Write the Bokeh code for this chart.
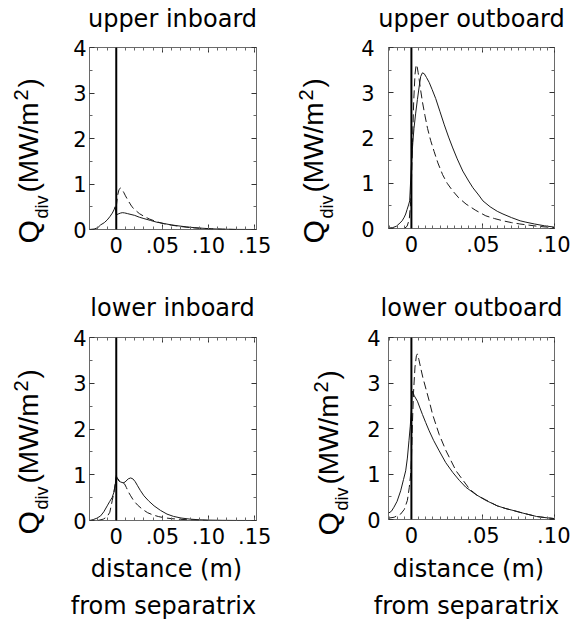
import math
from bokeh.plotting import figure
from bokeh.models import Span, FixedTicker, LinearAxis, Range1d
from bokeh.layouts import row, column
from bokeh.core.properties import value
from bokeh.embed import file_html
from bokeh.resources import INLINE

# ---------------- data ----------------
titles = ["upper inboard", "upper outboard", "lower inboard", "lower outboard"]
xlabel_lines = ["distance (m)", "from separatrix"]
ylabel_parts = ["Q", "div", "(MW/m", "2", ")"]

y_ticks = [0, 1, 2, 3, 4]
inboard_ticks = [0.0, 0.05, 0.10, 0.15]
inboard_tick_labels = ["0", ".05", ".10", ".15"]
outboard_ticks = [0.0, 0.05, 0.10]
outboard_tick_labels = ["0", ".05", ".10"]
inboard_xrange = (-0.029, 0.152)
outboard_xrange = (-0.016, 0.1)
q_range = (0, 4)
separatrix = 0.0

ui_solid_x = [-0.029, -0.024, -0.02, -0.017, -0.013, -0.0098, -0.007, -0.0043, -0.0025, -0.0012, 0.0,
              0.002, 0.0045, 0.0065, 0.009, 0.012, 0.016, 0.02, 0.025, 0.03, 0.037, 0.044, 0.052, 0.06,
              0.068, 0.076, 0.085, 0.094, 0.103, 0.115, 0.13, 0.152]
ui_solid_y = [0.0, 0.01, 0.04, 0.1, 0.15, 0.21, 0.28, 0.36, 0.43, 0.5, 0.32,
              0.34, 0.36, 0.37, 0.365, 0.35, 0.33, 0.31, 0.27, 0.24, 0.2, 0.16, 0.13, 0.1,
              0.078, 0.058, 0.04, 0.027, 0.015, 0.007, 0.002, 0.0]
ui_dash_x = [0.0, 0.0015, 0.003, 0.0045, 0.006, 0.008, 0.01, 0.013, 0.017, 0.021, 0.025, 0.03, 0.036,
             0.044, 0.052, 0.06, 0.07, 0.08, 0.09, 0.1, 0.115, 0.13]
ui_dash_y = [0.5, 0.75, 0.88, 0.91, 0.89, 0.82, 0.74, 0.63, 0.5, 0.42, 0.35, 0.29, 0.23,
             0.17, 0.125, 0.095, 0.065, 0.042, 0.027, 0.016, 0.006, 0.0]

uo_solid_x = [-0.016, -0.013, -0.0105, -0.0087, -0.0065, -0.005, -0.004, -0.003, -0.002, -0.0012, 0.0,
              0.001, 0.0018, 0.003, 0.0042, 0.0055, 0.0065, 0.0077, 0.009, 0.0105, 0.0124, 0.0145, 0.017,
              0.02, 0.023, 0.026, 0.0289, 0.032, 0.0359, 0.04, 0.043, 0.047, 0.05, 0.055, 0.06, 0.064,
              0.07, 0.076, 0.08, 0.086, 0.093, 0.1]
uo_solid_y = [0.01, 0.02, 0.05, 0.1, 0.17, 0.25, 0.32, 0.42, 0.52, 0.61, 1.4,
              1.9, 2.21, 2.55, 2.85, 3.15, 3.36, 3.44, 3.42, 3.34, 3.23, 3.07, 2.87,
              2.58, 2.29, 2.02, 1.78, 1.54, 1.27, 1.05, 0.9, 0.74, 0.61, 0.48, 0.38, 0.32,
              0.24, 0.17, 0.14, 0.1, 0.06, 0.03]
uo_dash_x = [-0.005, -0.003, -0.0015, -0.0005, 0.0, 0.0008, 0.0016, 0.0025, 0.0033, 0.004, 0.0047, 0.0054,
             0.0065, 0.0077, 0.0095, 0.0113, 0.0135, 0.0159, 0.0185, 0.0218, 0.025, 0.0289, 0.033, 0.0382,
             0.045, 0.052, 0.058, 0.064, 0.07, 0.0758, 0.082, 0.088, 0.094, 0.1]
uo_dash_y = [0.0, 0.05, 0.2, 0.6, 1.0, 1.9, 2.8, 3.4, 3.62, 3.58, 3.45, 3.3,
             3.05, 2.8, 2.49, 2.21, 1.94, 1.70, 1.45, 1.19, 1.0, 0.83, 0.68, 0.54,
             0.4, 0.28, 0.22, 0.17, 0.13, 0.10, 0.075, 0.05, 0.033, 0.02]

li_solid_x = [-0.029, -0.025, -0.021, -0.017, -0.0135, -0.0098, -0.007, -0.0045, -0.0025, -0.001, 0.0,
              0.0015, 0.003, 0.005, 0.008, 0.0105, 0.013, 0.0156, 0.018, 0.0205, 0.0228, 0.026, 0.03,
              0.035, 0.041, 0.048, 0.055, 0.062, 0.07, 0.08, 0.09, 0.1, 0.115, 0.13, 0.152]
li_solid_y = [0.0, 0.02, 0.05, 0.1, 0.19, 0.32, 0.42, 0.5, 0.62, 0.8, 0.98,
              0.9, 0.86, 0.84, 0.82, 0.86, 0.91, 0.93, 0.91, 0.85, 0.77, 0.66, 0.54,
              0.43, 0.32, 0.22, 0.14, 0.09, 0.055, 0.03, 0.016, 0.009, 0.004, 0.001, 0.0]
li_dash_x = [-0.02, -0.014, -0.01, -0.007, -0.0043, -0.0025, -0.001, 0.0, 0.0015, 0.003, 0.005, 0.007,
             0.009, 0.011, 0.013, 0.0156, 0.019, 0.023, 0.028, 0.034, 0.04, 0.046, 0.052, 0.06, 0.07,
             0.08, 0.09, 0.1]
li_dash_y = [0.0, 0.03, 0.08, 0.18, 0.44, 0.62, 0.82, 0.95, 0.92, 0.88, 0.86, 0.84,
             0.8, 0.72, 0.63, 0.54, 0.43, 0.34, 0.25, 0.17, 0.12, 0.085, 0.06, 0.04, 0.025,
             0.014, 0.007, 0.0]

lo_solid_x = [-0.016, -0.014, -0.0122, -0.01, -0.0075, -0.0055, -0.004, -0.0028, -0.0017, -0.0008, 0.0,
              0.0007, 0.002, 0.0042, 0.006, 0.0077, 0.01, 0.0124, 0.0155, 0.0194, 0.024, 0.029, 0.0335,
              0.038, 0.045, 0.052, 0.06, 0.066, 0.071, 0.078, 0.0875, 0.094, 0.1]
lo_solid_y = [0.14, 0.18, 0.27, 0.4, 0.63, 0.88, 1.07, 1.35, 1.73, 2.05, 2.4,
              2.82, 2.72, 2.6, 2.45, 2.31, 2.13, 1.95, 1.74, 1.51, 1.25, 1.03, 0.86,
              0.71, 0.55, 0.42, 0.3, 0.24, 0.2, 0.14, 0.066, 0.04, 0.02]
lo_dash_x = [-0.016, -0.012, -0.0075, -0.005, -0.0028, -0.0015, -0.0005, 0.0, 0.0007, 0.0015, 0.0025,
             0.0035, 0.0042, 0.0052, 0.0065, 0.008, 0.01, 0.0125, 0.0148, 0.0194, 0.0242, 0.0312,
             0.0406, 0.046, 0.052, 0.06, 0.066, 0.071, 0.078, 0.0875, 0.094, 0.1]
lo_dash_y = [0.03, 0.05, 0.12, 0.22, 0.42, 0.7, 1.0, 1.3, 2.1, 2.8, 3.35,
             3.6, 3.64, 3.52, 3.33, 3.12, 2.89, 2.6, 2.31, 1.87, 1.51, 1.07,
             0.67, 0.53, 0.43, 0.3, 0.24, 0.2, 0.14, 0.066, 0.04, 0.02]

# ---------------- styling ----------------
HFONT = "DejaVu Sans"
YFONT = "Liberation Sans"
INK = "#1a1a1a"
MID = 0.35  # em-box middle above the baseline
TICK_PX = "21px"


def text_fig(w, h):
    f = figure(frame_width=w, frame_height=h, x_range=Range1d(0, w), y_range=Range1d(0, h),
               min_border_left=0, min_border_right=0, min_border_top=0, min_border_bottom=0,
               toolbar_location=None, output_backend="svg",
               x_axis_location=None, y_axis_location=None, title=None)
    f.outline_line_color = None
    f.xgrid.visible = False
    f.ygrid.visible = False
    f.background_fill_color = "white"
    f.border_fill_color = "white"
    return f


def put_text(f, x, y, txt, size_px, font=HFONT, angle=0.0):
    # text is anchored at its centre, which does not depend on rotation
    f.text(x=[x], y=[y], text=[txt], angle=angle, text_align="center", text_baseline="middle",
           text_font=value(font), text_font_size=value(f"{size_px}px"), text_color="black")


def put_line(f, cx, baseline_y, txt, size_px):
    put_text(f, cx, baseline_y + MID * size_px, txt, size_px)


def make_panel(sx, sy, dx, dy, xr, ticks, tick_labels, minor_step, *,
               fw, fh, bl, br, bt, bb, ystand):
    p = figure(frame_width=fw, frame_height=fh,
               x_range=Range1d(*xr), y_range=Range1d(*q_range),
               min_border_left=bl, min_border_right=br, min_border_top=bt, min_border_bottom=bb,
               output_backend="svg", toolbar_location=None, title=None)
    p.background_fill_color = "white"
    p.border_fill_color = "white"
    p.outline_line_color = "#6a6a6a"
    p.outline_line_width = 1
    p.xgrid.visible = False
    p.ygrid.visible = False

    n0 = int(math.floor(xr[0] / minor_step)) - 1
    n1 = int(math.ceil(xr[1] / minor_step)) + 1
    minors = [round(i * minor_step, 4) for i in range(n0, n1)]
    xt = FixedTicker(ticks=ticks, minor_ticks=minors)
    yt = FixedTicker(ticks=y_ticks, minor_ticks=[0.5, 1.5, 2.5, 3.5])

    for ax in p.xaxis:
        ax.ticker = xt
        ax.major_label_overrides = {t: l for t, l in zip(ticks, tick_labels)}
        ax.major_label_standoff = 7
    for ax in p.yaxis:
        ax.ticker = yt
        ax.major_label_standoff = ystand
    for ax in list(p.xaxis) + list(p.yaxis):
        ax.axis_line_color = None
        ax.major_tick_in = 5
        ax.major_tick_out = 0
        ax.minor_tick_in = 3
        ax.minor_tick_out = 0
        ax.major_tick_line_color = "#333333"
        ax.minor_tick_line_color = "#666666"
        ax.major_label_text_font = HFONT
        ax.major_label_text_font_size = TICK_PX
        ax.major_label_text_color = "black"

    # mirrored ticks on top and right (no labels)
    for loc, tk in (("above", xt), ("right", yt)):
        ax = LinearAxis(ticker=tk, axis_line_color=None, major_tick_in=5, major_tick_out=0,
                        minor_tick_in=3, minor_tick_out=0, major_label_text_font_size="1px",
                        major_label_text_color=None, major_label_standoff=0,
                        major_tick_line_color="#333333", minor_tick_line_color="#666666")
        p.add_layout(ax, loc)

    p.line(sx, sy, line_color=INK, line_width=1)
    p.line(dx, dy, line_color=INK, line_width=1, line_dash="8 4")
    p.add_layout(Span(location=separatrix, dimension="height", line_color="black", line_width=2))
    return p


# y-label pieces: font size, advance (em), baseline shift (+ = towards the frame), start along text
YL_SPEC = [(30, 0.778, 0, -1), (18, 1.278, 10, 24), (28, 3.221, 0, 50), (20, 0.556, -11, 142),
           (28, 0.333, 0, 155)]


def ylabel_fig(w, h, base_x, frame_bottom):
    f = text_fig(w, h)
    for txt, (size, adv, shift, start) in zip(ylabel_parts, YL_SPEC):
        cy = frame_bottom + start + adv * size / 2.0
        cx = base_x + shift - MID * size
        put_text(f, cx, cy, txt, size, font=YFONT, angle=math.pi / 2)
    return f


# ---- row 1: titles of upper panels (height 33)
t_up_l = text_fig(285, 33)
put_line(t_up_l, 172, 6, titles[0], 24)
t_up_r = text_fig(285, 33)
put_line(t_up_r, 186, 6, titles[1], 24)

# ---- row 2: upper panels (height 257)
p_ui = make_panel(ui_solid_x, ui_solid_y, ui_dash_x, ui_dash_y, inboard_xrange,
                  inboard_ticks, inboard_tick_labels, 0.01,
                  fw=167, fh=182, bl=29, br=29, bt=13, bb=62, ystand=3)
p_uo = make_panel(uo_solid_x, uo_solid_y, uo_dash_x, uo_dash_y, outboard_xrange,
                  outboard_ticks, outboard_tick_labels, 0.005,
                  fw=166, fh=181, bl=33, br=16, bt=14, bb=62, ystand=14)
yl_ui = ylabel_fig(60, 257, 38, 62)
yl_uo = ylabel_fig(70, 257, 38, 62)

# ---- row 3: titles of lower panels (height 32)
t_lo_l = text_fig(285, 32)
put_line(t_lo_l, 172, 6, titles[2], 24)
t_lo_r = text_fig(285, 32)
put_line(t_lo_r, 186, 6, titles[3], 24)

# ---- row 4: lower panels (height 230)
p_li = make_panel(li_solid_x, li_solid_y, li_dash_x, li_dash_y, inboard_xrange,
                  inboard_ticks, inboard_tick_labels, 0.01,
                  fw=167, fh=183, bl=29, br=29, bt=13, bb=34, ystand=3)
p_lo = make_panel(lo_solid_x, lo_solid_y, lo_dash_x, lo_dash_y, outboard_xrange,
                  outboard_ticks, outboard_tick_labels, 0.005,
                  fw=166, fh=182, bl=33, br=16, bt=15, bb=33, ystand=8)
yl_li = ylabel_fig(60, 230, 38, 34)
yl_lo = ylabel_fig(70, 230, 53, 33)

# ---- row 5: x-axis captions (height 69)
x_l = text_fig(285, 69)
put_line(x_l, 166, 44, xlabel_lines[0], 24)
put_line(x_l, 163, 7, xlabel_lines[1], 24)
x_r = text_fig(285, 69)
put_line(x_r, 183, 44, xlabel_lines[0], 24)
put_line(x_r, 181, 7, xlabel_lines[1], 24)

layout = column(row(t_up_l, t_up_r),
                row(yl_ui, p_ui, yl_uo, p_uo),
                row(t_lo_l, t_lo_r),
                row(yl_li, p_li, yl_lo, p_lo),
                row(x_l, x_r))

with open("out.html", "w") as f:
    f.write(file_html(layout, INLINE))
